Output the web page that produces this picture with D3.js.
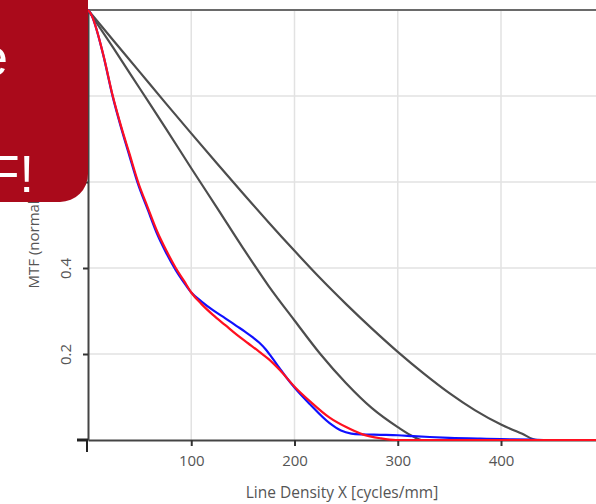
<!DOCTYPE html>
<html>
<head>
<meta charset="utf-8">
<script src="https://cdn.jsdelivr.net/npm/d3@7"></script>
<style>
  html, body { margin: 0; padding: 0; background: #fff; overflow: hidden; }
  svg { display: block; }
</style>
</head>
<body>
<svg id="chart" width="596" height="504"></svg>
<script>
// Line density (cycles/mm) vs. normalized MTF
const xTickValues = [100, 200, 300, 400];
const yTickValues = [0.2, 0.4, 0.6, 0.8, 1.0];
const yTickLabels = ["0.2", "0.4", "0.6", "0.8", "1.0"];

// diffraction limit, smaller aperture (cut-off ~323 cycles/mm)
const grayInnerX = [0, 25, 50, 75, 100, 125, 150, 175, 200, 225, 250, 275, 300, 315, 323, 492];
const grayInnerY = [1.0, 0.91, 0.818, 0.726, 0.632, 0.54, 0.447, 0.358, 0.278, 0.2, 0.132, 0.074, 0.03, 0.008, 0, 0];

// diffraction limit, larger aperture (cut-off ~435 cycles/mm)
const grayOuterX = [0, 25, 50, 75, 100, 125, 150, 175, 200, 225, 250, 275, 300, 325, 350, 375, 400, 420, 435, 492];
const grayOuterY = [1.0, 0.928, 0.856, 0.784, 0.713, 0.643, 0.574, 0.506, 0.44, 0.376, 0.316, 0.259, 0.205, 0.155, 0.109, 0.069, 0.036, 0.015, 0, 0];

// measured MTF, red
const redX = [0, 3, 14.5, 24, 32, 40, 48.5, 58, 67, 76, 85, 93, 100, 110, 121, 133, 144, 155, 166, 175, 186, 200, 215, 234, 250, 266, 283, 298, 492];
const redY = [1.0, 0.99, 0.899, 0.80, 0.73, 0.667, 0.60, 0.54, 0.485, 0.44, 0.40, 0.37, 0.343, 0.316, 0.291, 0.267, 0.245, 0.225, 0.205, 0.188, 0.162, 0.124, 0.09, 0.052, 0.03, 0.013, 0.004, 0, 0];

// measured MTF, blue
const blueX = [0, 3, 14.5, 24, 32, 40, 48.5, 58, 67, 76, 85, 93, 100, 110, 121, 133, 144, 152, 160, 166, 172, 178, 185, 192, 200, 215, 234, 245, 255, 265, 283, 300, 315, 331, 350, 380, 400, 430, 445, 492];
const blueY = [1.0, 0.99, 0.898, 0.798, 0.727, 0.662, 0.595, 0.535, 0.479, 0.434, 0.395, 0.366, 0.343, 0.322, 0.302, 0.283, 0.265, 0.252, 0.238, 0.226, 0.211, 0.192, 0.169, 0.146, 0.122, 0.083, 0.039, 0.022, 0.015, 0.013, 0.012, 0.011, 0.009, 0.007, 0.005, 0.003, 0.002, 0.001, 0, 0];

const svg = d3.select("#chart");
const margin = { left: 88, top: 10, right: 0, bottom: 64 };
const W = 596, H = 504;

const x = d3.scaleLinear().domain([0, 492]).range([margin.left, W - margin.right]);
const y = d3.scaleLinear().domain([0, 1]).range([H - margin.bottom, margin.top]);

const font = "'Open Sans', 'Noto Sans', sans-serif";
const textColor = "#555";

// grid
const grid = svg.append("g");
grid.selectAll("line.v").data(xTickValues).join("line")
  .attr("x1", d => x(d)).attr("x2", d => x(d))
  .attr("y1", y(0)).attr("y2", y(1))
  .attr("stroke", "#e2e2e2").attr("stroke-width", 1.5);
grid.selectAll("line.h").data(yTickValues.filter(v => v < 1)).join("line")
  .attr("x1", x(0)).attr("x2", W)
  .attr("y1", d => y(d)).attr("y2", d => y(d))
  .attr("stroke", "#e2e2e2").attr("stroke-width", 1.5);

// top frame line
svg.append("line")
  .attr("x1", x(0)).attr("x2", W).attr("y1", y(1)).attr("y2", y(1))
  .attr("stroke", "#6a6a6a").attr("stroke-width", 2);

// x axis
const xAxis = svg.append("g")
  .attr("transform", `translate(0,${y(0)})`)
  .call(d3.axisBottom(x).tickValues(xTickValues).tickSize(6).tickSizeOuter(0).tickFormat(d3.format("d")));
xAxis.select(".domain").attr("stroke", "#444").attr("stroke-width", 2);
xAxis.selectAll(".tick line").attr("stroke", "#333").attr("stroke-width", 2);
xAxis.selectAll(".tick text")
  .attr("y", 15).attr("fill", textColor)
  .style("font-family", font).style("font-size", "15px");

// y axis
const yAxis = svg.append("g")
  .attr("transform", `translate(${x(0)},0)`)
  .call(d3.axisLeft(y).tickValues(yTickValues).tickSize(5).tickSizeOuter(0)
    .tickFormat((d, i) => yTickLabels[i]));
yAxis.select(".domain").attr("stroke", "#444").attr("stroke-width", 2);
yAxis.selectAll(".tick line").attr("stroke", "#333").attr("stroke-width", 2);
yAxis.selectAll(".tick text")
  .attr("x", null).attr("dy", null)
  .attr("text-anchor", "middle")
  .attr("transform", "translate(-17,0) rotate(-90)")
  .attr("fill", textColor)
  .style("font-family", font).style("font-size", "15px");

// origin corner ticks
svg.append("line")
  .attr("x1", x(0) - 11).attr("x2", x(0)).attr("y1", y(0)).attr("y2", y(0))
  .attr("stroke", "#222").attr("stroke-width", 3);
svg.append("line")
  .attr("x1", x(0) - 1).attr("x2", x(0) - 1).attr("y1", y(0)).attr("y2", y(0) + 12)
  .attr("stroke", "#222").attr("stroke-width", 2);

// axis titles
svg.append("text")
  .attr("x", (x(0) + W) / 2).attr("y", 498)
  .attr("text-anchor", "middle").attr("fill", textColor)
  .style("font-family", font).style("font-size", "15.5px")
  .text("Line Density X [cycles/mm]");
svg.append("text")
  .attr("transform", `translate(39,${(y(0) + y(1)) / 2 + 3}) rotate(-90)`)
  .attr("text-anchor", "middle").attr("fill", textColor)
  .style("font-family", font).style("font-size", "15px")
  .text("MTF (normalized)");

// curves
const line = d3.line().x(d => x(d[0])).y(d => y(d[1])).curve(d3.curveMonotoneX);
const zip = (xs, ys) => xs.map((v, i) => [v, ys[i]]);

const plot = svg.append("g");
[
  { xs: grayInnerX, ys: grayInnerY, color: "#4d4d4d" },
  { xs: grayOuterX, ys: grayOuterY, color: "#4d4d4d" },
  { xs: blueX, ys: blueY, color: "#1010ff" },
  { xs: redX, ys: redY, color: "#ff1020" }
].forEach(s => {
  plot.append("path")
    .datum(zip(s.xs, s.ys))
    .attr("d", line)
    .attr("fill", "none")
    .attr("stroke", s.color)
    .attr("stroke-width", 2.2)
    .attr("stroke-linejoin", "round");
});

// banner in the top-left corner
const bw = 88, bh = 202, r = 28;
svg.append("path")
  .attr("d", `M-10,-10 H${bw} V${bh - r} A${r},${r} 0 0 1 ${bw - r},${bh} H-10 Z`)
  .attr("fill", "#aa0a1b");
const banner = svg.append("g")
  .attr("fill", "#fff")
  .style("font-family", "'Liberation Sans', Arial, sans-serif")
  .style("font-size", "52px")
  .attr("text-anchor", "end");
banner.append("text").attr("x", 8).attr("y", 75).text("Measure");
banner.append("text").attr("x", -6).attr("y", 133).text("your");
banner.append("text").attr("x", 34).attr("y", 192).text("MTF!");
</script>
</body>
</html>
